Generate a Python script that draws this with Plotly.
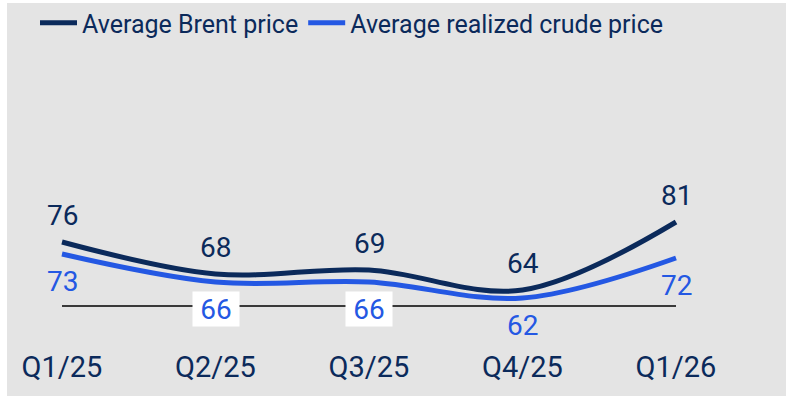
import plotly.graph_objects as go

# Quarterly crude prices (USD/bbl)
quarters = ["Q1/25", "Q2/25", "Q3/25", "Q4/25", "Q1/26"]
brent = [76, 68, 69, 64, 81]
realized = [73, 66, 66, 62, 72]
BASE = 60  # level of the reference rule under the lines

NAVY = "#0b2a5b"
BLUE = "#2458e3"
GRAY = "#e4e4e4"
FONT = "Roboto"

W, H = 786, 396
ML, MR, MT, MB = 7, 0, 3, 86
PW, PH = W - ML - MR, H - MT - MB
PX_PER_Q = 153.5       # horizontal spacing between quarters
PX_PER_USD = 4.0       # vertical scale

x = list(range(len(quarters)))
x_lo = -(62 - ML) / PX_PER_Q
x_hi = x_lo + PW / PX_PER_Q
y_lo = BASE - 4 / PX_PER_USD
y_hi = y_lo + PH / PX_PER_USD

fig = go.Figure()
fig.add_trace(go.Scatter(
    x=x, y=brent, name="Average Brent price", mode="lines",
    line=dict(color=NAVY, width=5, shape="spline", smoothing=1),
    hoverinfo="skip",
))
fig.add_trace(go.Scatter(
    x=x, y=realized, name="Average realized crude price", mode="lines",
    line=dict(color=BLUE, width=5, shape="spline", smoothing=1),
    hoverinfo="skip",
))

# thin rule spanning the first to the last quarter
fig.add_shape(type="line", xref="x", yref="y", x0=x[0], x1=x[-1], y0=BASE, y1=BASE,
              line=dict(color="black", width=1.3), layer="below")

# value labels: Brent above its line, realized below
for i, v in enumerate(brent):
    fig.add_annotation(x=i, y=v, text=str(v), showarrow=False, yshift=27,
                       xanchor="center", yanchor="middle",
                       font=dict(family=FONT, size=28, color=NAVY))
for i, v in enumerate(realized):
    boxed = v == 66
    fig.add_annotation(x=i, y=v, text=str(v), showarrow=False, yshift=-27,
                       xanchor="center", yanchor="middle",
                       bgcolor="white" if boxed else None,
                       width=44 if boxed else None,
                       height=32 if boxed else None,
                       font=dict(family=FONT, size=28, color=BLUE))


# white frame strips around the gray panel (paper coordinates)
def px_to_xp(px):
    return (px - ML) / PW


def py_to_yp(py):
    return (H - MB - py) / PH


fig.add_shape(type="rect", xref="paper", yref="paper", layer="below",
              x0=px_to_xp(-2), x1=px_to_xp(7), y0=py_to_yp(H + 2), y1=py_to_yp(-2),
              fillcolor="white", line_width=0)
fig.add_shape(type="rect", xref="paper", yref="paper", layer="below",
              x0=px_to_xp(-2), x1=px_to_xp(W + 2), y0=py_to_yp(3), y1=py_to_yp(-2),
              fillcolor="white", line_width=0)

fig.update_layout(
    width=W, height=H,
    margin=dict(l=ML, r=MR, t=MT, b=MB, pad=0, autoexpand=False),
    paper_bgcolor=GRAY, plot_bgcolor=GRAY,
    showlegend=True,
    legend=dict(orientation="h", xref="container", yref="container",
                x=35 / W, xanchor="left", y=1 - 23 / H, yanchor="middle",
                font=dict(family=FONT, size=25, color=NAVY),
                bgcolor="rgba(0,0,0,0)", itemwidth=37),
    xaxis=dict(range=[x_lo, x_hi], tickvals=x, ticktext=quarters,
               showline=False, showgrid=False, zeroline=False, ticks="",
               automargin=False, ticklabelstandoff=37, fixedrange=True,
               tickfont=dict(family=FONT, size=29, color=NAVY)),
    yaxis=dict(range=[y_lo, y_hi], showgrid=False, zeroline=False,
               automargin=False,
               showticklabels=False, ticks="", showline=False, fixedrange=True),
)

fig.write_html("out.html")
